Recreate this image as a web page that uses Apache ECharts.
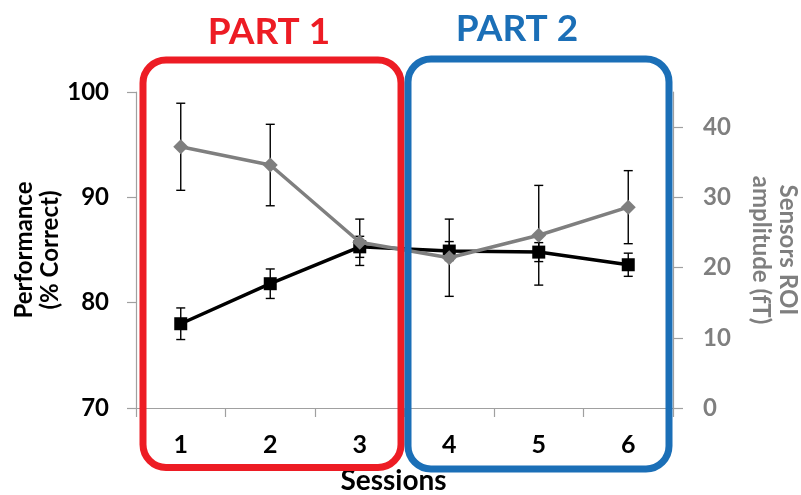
<!DOCTYPE html>
<html>
<head>
<meta charset="utf-8">
<script src="https://cdn.jsdelivr.net/npm/echarts@6/dist/echarts.min.js"></script>
<style>
  html, body { margin: 0; padding: 0; background: #fff; }
  #chart { width: 801px; height: 495px; }
</style>
</head>
<body>
<div id="chart"></div>
<script>
var sessions = ['1', '2', '3', '4', '5', '6'];
var performance = [78.0, 81.8, 85.3, 84.9, 84.8, 83.6];
var performanceErr = [1.5, 1.4, 1.0, 0.9, 0.9, 1.1];
var roiAmplitude = [37.2, 34.6, 23.6, 21.4, 24.6, 28.6];
var roiErr = [6.2, 5.8, 3.3, 5.5, 7.1, 5.2];
var leftTicks = [70, 80, 90, 100];
var rightTicks = [0, 10, 20, 30, 40];
var partLabels = ['PART 1', 'PART 2'];

var FONT = 'Lato, "Open Sans", sans-serif';
var RED = '#ED1C24';
var BLUE = '#1B6FB7';
var GRAY = '#7F7F7F';
var AXIS = '#A0A0A0';

function errData(vals, errs) {
  return vals.map(function (v, i) { return [i, v - errs[i], v + errs[i]]; });
}

function errRender(params, api) {
  var x = api.value(0), lo = api.value(1), hi = api.value(2);
  var p1 = api.coord([x, hi]);
  var p2 = api.coord([x, lo]);
  var hw = 4.5;
  var st = { stroke: '#000', lineWidth: 1.4 };
  return {
    type: 'group',
    children: [
      { type: 'line', shape: { x1: p1[0], y1: p1[1], x2: p2[0], y2: p2[1] }, style: st },
      { type: 'line', shape: { x1: p1[0] - hw, y1: p1[1], x2: p1[0] + hw, y2: p1[1] }, style: st },
      { type: 'line', shape: { x1: p2[0] - hw, y1: p2[1], x2: p2[0] + hw, y2: p2[1] }, style: st }
    ]
  };
}

var chart = echarts.init(document.getElementById('chart'), null, { renderer: 'canvas' });
chart.setOption({
  animation: false,
  backgroundColor: '#fff',
  grid: { left: 136, right: 128, top: 92, bottom: 87, containLabel: false, outerBoundsMode: 'none' },
  xAxis: {
    type: 'category',
    data: sessions,
    boundaryGap: true,
    name: 'Sessions',
    nameLocation: 'middle',
    nameGap: 59,
    nameMoveOverlap: false,
    nameTextStyle: { fontFamily: FONT, fontWeight: 'bold', fontSize: 28, color: '#000', padding: [0, 22, 0, 0] },
    axisLine: { lineStyle: { color: AXIS, width: 1.2 } },
    axisTick: { show: true, interval: 0, length: 9, lineStyle: { color: AXIS, width: 1.2 } },
    axisLabel: { margin: 24, fontFamily: FONT, fontWeight: 'bold', fontSize: 25, color: '#000' },
    splitLine: { show: false }
  },
  yAxis: [
    {
      type: 'value',
      min: 70, max: 100, interval: 10,
      position: 'left',
      name: 'Performance\n(% Correct)',
      nameLocation: 'middle',
      nameGap: 73,
      nameMoveOverlap: false,
      nameRotate: 90,
      nameTextStyle: { fontFamily: FONT, fontWeight: 'bold', fontSize: 24, color: '#000', lineHeight: 26 },
      axisLine: { show: true, lineStyle: { color: AXIS, width: 1.2 } },
      axisTick: { show: true, length: 9, lineStyle: { color: AXIS, width: 1.2 }, customValues: leftTicks },
      axisLabel: { margin: 27, fontFamily: FONT, fontWeight: 'bold', fontSize: 24, color: '#000', customValues: leftTicks },
      splitLine: { show: false }
    },
    {
      type: 'value',
      min: 0, max: 45, interval: 10,
      position: 'right',
      name: 'Sensors ROI\namplitude (fT)',
      nameLocation: 'middle',
      nameGap: 74,
      nameMoveOverlap: false,
      nameRotate: -90,
      nameTextStyle: { fontFamily: FONT, fontWeight: 'bold', fontSize: 24, color: GRAY, lineHeight: 27 },
      axisLine: { show: true, lineStyle: { color: AXIS, width: 1.2 } },
      axisTick: { show: true, length: 10, lineStyle: { color: AXIS, width: 1.2 }, customValues: rightTicks },
      axisLabel: { margin: 30, fontFamily: FONT, fontWeight: 'bold', fontSize: 24, color: GRAY, customValues: rightTicks },
      splitLine: { show: false }
    }
  ],
  series: [
    {
      type: 'custom',
      name: 'perfErr',
      yAxisIndex: 0,
      renderItem: errRender,
      data: errData(performance, performanceErr),
      z: 1
    },
    {
      type: 'custom',
      name: 'roiErr',
      yAxisIndex: 1,
      renderItem: errRender,
      data: errData(roiAmplitude, roiErr),
      z: 1
    },
    {
      type: 'line',
      name: 'Performance',
      yAxisIndex: 0,
      data: performance,
      symbol: 'rect',
      symbolSize: 13,
      lineStyle: { color: '#000', width: 3.5 },
      itemStyle: { color: '#000' },
      z: 3
    },
    {
      type: 'line',
      name: 'ROI amplitude',
      yAxisIndex: 1,
      data: roiAmplitude,
      symbol: 'diamond',
      symbolSize: [15, 15],
      lineStyle: { color: GRAY, width: 3.5 },
      itemStyle: { color: GRAY },
      z: 4
    }
  ],
  graphic: [
    {
      type: 'rect', z: 100,
      shape: { x: 143, y: 60, width: 258, height: 407.5, r: 23 },
      style: { fill: 'none', stroke: RED, lineWidth: 7 }
    },
    {
      type: 'rect', z: 100,
      shape: { x: 408, y: 59, width: 261, height: 410, r: 23 },
      style: { fill: 'none', stroke: BLUE, lineWidth: 7 }
    },
    {
      type: 'text', z: 100, x: 269, y: 32,
      style: { text: partLabels[0], fill: RED, fontFamily: FONT, fontWeight: 'bold', fontSize: 37, align: 'center', verticalAlign: 'middle' }
    },
    {
      type: 'text', z: 100, x: 517, y: 29,
      style: { text: partLabels[1], fill: BLUE, fontFamily: FONT, fontWeight: 'bold', fontSize: 37, align: 'center', verticalAlign: 'middle' }
    }
  ]
});
</script>
</body>
</html>
